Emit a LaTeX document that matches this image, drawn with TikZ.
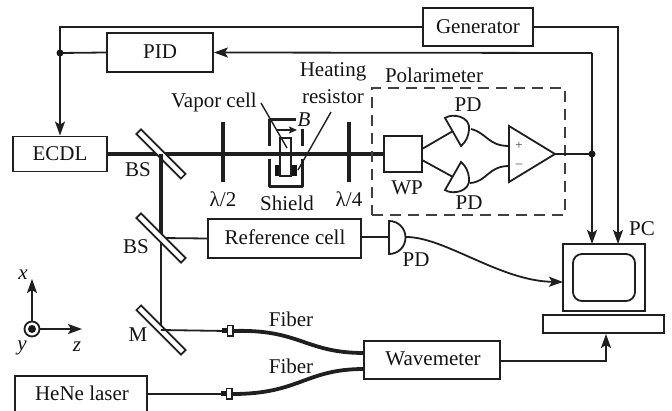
\documentclass[tikz,border=0pt]{standalone}
\usepackage{fontspec}
\setmainfont{Liberation Serif}
\usetikzlibrary{arrows.meta}
\tikzset{
  thinl/.style={line width=1.8pt,draw=black!88},
  beam/.style={line width=3.8pt,draw=black!88},
  box/.style={draw=black!88,line width=1.8pt,fill=white,inner sep=0pt,minimum height=#1},
  box/.default=38pt,
  lab/.style={inner sep=0pt,text=black!92,font=\fontsize{21}{22}\selectfont},
  mirror/.style={draw=black!88,line width=1.7pt,fill=white,rotate=-45,minimum width=63pt,minimum height=6.5pt,inner sep=0pt},
  plate/.style={line width=3.8pt,draw=black!88},
  tip/.style={-{Stealth[length=14pt,width=10pt,inset=3pt]}},
  dotn/.style={circle,fill=black!90,inner sep=0pt,minimum size=7pt},
  conn/.style={draw=black!88,line width=1.5pt,fill=white,minimum width=5.5pt,minimum height=10.5pt,inner sep=0pt},
  pdshape/.style={draw=black!88,line width=1.8pt,fill=white},
}
\begin{document}
\begin{tikzpicture}[x=1pt,y=-1pt]
\useasboundingbox (0,0) rectangle (672,411);
% boxes
\node[box,minimum width=110pt] (gen) at (478,27) {};
\node[lab] at (478,26.5) {Generator};
\node[box=39pt,minimum width=106pt] (pid) at (160,52.5) {};
\node[lab] at (160,52) {PID};
\node[box=35pt,minimum width=94pt] (ecdl) at (60,154) {};
\node[lab] at (60,153.5) {ECDL};
\node[box=39pt,minimum width=153pt] (ref) at (284.5,238.5) {};
\node[lab] at (285,237) {Reference cell};
\node[box=38pt,minimum width=136pt] (wm) at (432,360) {};
\node[lab] at (433,359) {Wavemeter};
\node[box=36pt,minimum width=132pt] (hene) at (81,394) {};
\node[lab] at (82,393) {HeNe laser};
\node[box=36pt,minimum width=38pt] (wp) at (403,154) {};
\node[lab] at (407,188) {WP};
% computer
\node[box=67pt,minimum width=82pt] (mon) at (604,277.5) {};
\node[draw=black!88,line width=1.8pt,rounded corners=9pt,minimum width=62pt,minimum height=47pt,inner sep=0pt] (scr) at (604,277.5) {};
\node[box=18pt,minimum width=121pt] (kb) at (603.5,324) {};
\node[lab] at (642,229) {PC};
% coordinates
\coordinate (topl) at (60,27);
\coordinate (jp) at (60,53);
\coordinate (jo) at (592,154);
\coordinate (s1) at (161,154);
\coordinate (s2) at (161,238);
\coordinate (s3) at (161,330);
\coordinate (monA) at (592,244);
\coordinate (monB) at (618,244);
\coordinate (monC) at (563,282);
\coordinate (kbin) at (606,334);
\coordinate (cornerA) at (592,53);
% lines
\draw[thinl] (gen.west) -- (topl) -- (jp);
\draw[thinl,tip] (jp) -- (ecdl.north);
\draw[thinl] (pid.west) -- (jp);
\node[dotn] (jpd) at (jp) {};
\draw[thinl,tip] (gen.east) -| (monB);
\draw[thinl,tip] (cornerA) -- (pid.east);
\draw[thinl,tip] (cornerA) -- (monA);
\draw[beam] (ecdl.east) -- (wp.west);
\draw[beam] (s1) -- (s2);
\draw[thinl] (s2) -- (s3);
\draw[thinl] (s2) -- (ref.west);
% mirrors
\node[mirror] (bs1) at (s1) {};
\node[mirror] (bs2) at (s2) {};
\node[mirror] (mm) at (s3) {};
\draw[beam] (s1) -- (161,170);
\node[lab] at (138,170) {BS};
\node[lab] at (136,247) {BS};
\node[lab] at (138,335) {M};
% plates
\coordinate (p1a) at (223,122); \coordinate (p1b) at (223,182);
\coordinate (p2a) at (349,122); \coordinate (p2b) at (349,182);
\draw[plate] (p1a) -- (p1b);
\draw[plate] (p2a) -- (p2b);
\node[lab] at (223,199) {λ/2};
\node[lab] at (349,199) {λ/4};
% shield
\draw[line width=3pt,draw=black!88,line join=round] (269,146) -- (269,120) -- (296,120);
\draw[line width=3pt,draw=black!88,line join=round] (269,159) -- (269,187) -- (302,187) -- (302,159);
\draw[line width=3pt,draw=black!88] (302,129) -- (302,146);
\node[lab] at (287,203) {Shield};
% cell
\fill[black!92] (275,165) rectangle (297,176);
\node[draw=black!88,line width=1.5pt,fill=white,minimum width=11pt,minimum height=38pt,inner sep=0pt] (cell) at (285.5,157) {};
\draw[beam] (269,154) -- (302,154);
\draw[line width=1.4pt,draw=black!88,-{Stealth[length=8pt,width=7pt,inset=1.5pt]}] (277,130) -- (297,130);
\node[lab,font=\fontsize{21}{22}\selectfont\itshape] at (304,120) {B};
\coordinate (va) at (261,103); \coordinate (vb) at (287,148);
\draw[line width=1.4pt,draw=black!88] (va) -- (vb);
\coordinate (ra) at (331,112); \coordinate (rb) at (298,170);
\draw[line width=1.4pt,draw=black!88] (ra) -- (rb);
\node[lab,anchor=east] at (257,102) {Vapor cell};
\node[lab] at (333,72) {Heating};
\node[lab] at (333,97) {resistor};
% polarimeter
\node[draw=black!75,line width=1.2pt,dash pattern=on 11pt off 7pt,minimum width=193pt,minimum height=127pt,inner sep=0pt] (pol) at (468.5,151.5) {};
\node[lab] at (434,75) {Polarimeter};
\coordinate (pa1) at (422,149); \coordinate (pb1) at (453,131);
\coordinate (pa2) at (422,160); \coordinate (pb2) at (453,177);
\draw[thinl] (pa1) -- (pb1);
\draw[thinl] (pa2) -- (pb2);
\draw[pdshape] (445,118) .. controls (452,113) and (471,116) .. (469,130) .. controls (468.5,136) and (466,142) .. (461,146) -- cycle;
\draw[pdshape] (445,190) .. controls (452,195) and (471,192) .. (469,178) .. controls (468.5,172) and (466,166) .. (461,162) -- cycle;
\node[lab] at (468,105) {PD};
\node[lab] at (469,203) {PD};
\coordinate (amp1) at (509,126); \coordinate (amp2) at (509,182); \coordinate (amp3) at (555,154);
\draw[thinl,line join=miter] (amp1) -- (amp2) -- (amp3) -- cycle;
\node[inner sep=0pt,font=\fontsize{13}{13}\selectfont,text=black!75] at (519,146) {+};
\node[inner sep=0pt,font=\fontsize{13}{13}\selectfont,text=black!75] at (519,166) {–};
\draw[thinl] (471,129) .. controls (487,133) and (488,146) .. (509,146);
\draw[thinl] (470,183) .. controls (487,182) and (488,166) .. (509,166);
\draw[thinl] (amp3) -- (jo);
\node[dotn] (jod) at (jo) {};
% reference PD
\draw[thinl] (ref.east |- 0,237) -- (389,237);
\draw[pdshape] (389,221) .. controls (399,221) and (405.5,229) .. (405.5,237.5) .. controls (405.5,246) and (399,254) .. (389,254) -- cycle;
\node[lab] at (416,260) {PD};
\draw[thinl,tip] (406,237) .. controls (445,237) and (500,281) .. (monC);
% fibers
\node[conn] (c1) at (230,331) {};
\node[conn] (c2) at (229,394) {};
\draw[thinl] (s3) -- (c1.west);
\draw[thinl] (hene.east) -- (c2.west);
\fill[black!90] (c1.west) ++(-5,-2.5) rectangle ++(5,5);
\fill[black!90] (c2.west) ++(-5,-2.5) rectangle ++(5,5);
\coordinate (w1) at (364,353);
\coordinate (w2) at (364,369);
\draw[line width=3.8pt,draw=black!88] (c1.east) .. controls (300,329) and (305,353) .. (w1);
\draw[line width=3.8pt,draw=black!88] (c2.east) .. controls (300,394) and (305,369) .. (w2);
\node[lab] at (291,319) {Fiber};
\node[lab] at (291,366) {Fiber};
\draw[thinl,tip] (wm.east |- 0,361) -| (kbin);
% axes
\coordinate (ax) at (32,329);
\coordinate (axx) at (32,279);
\coordinate (axz) at (82,329);
\draw[thinl,tip] (ax) -- (axx);
\draw[thinl,tip] (ax) -- (axz);
\node[draw=black!88,line width=1.8pt,fill=white,circle,minimum size=15pt,inner sep=0pt] (org) at (ax) {};
\node[circle,fill=black!90,minimum size=8pt,inner sep=0pt] at (ax) {};
\node[lab,font=\fontsize{21}{22}\selectfont\itshape] at (23,275) {x};
\node[lab,font=\fontsize{21}{22}\selectfont\itshape] at (22,348) {y};
\node[lab,font=\fontsize{21}{22}\selectfont\itshape] at (77,347) {z};
\end{tikzpicture}
\end{document}
